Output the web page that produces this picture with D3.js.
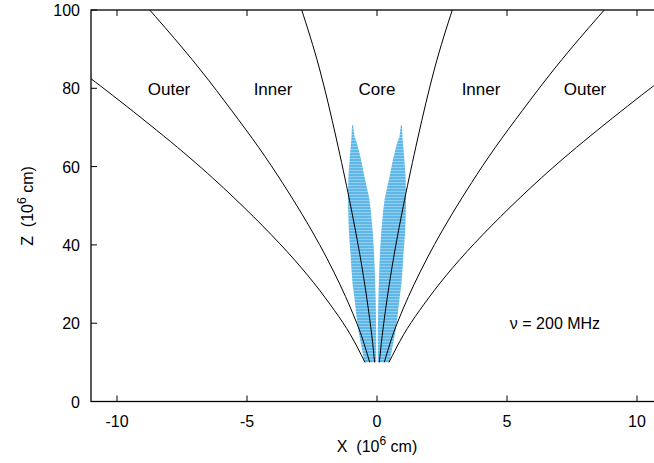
<!DOCTYPE html>
<html>
<head>
<meta charset="utf-8">
<script src="https://cdn.jsdelivr.net/npm/d3@7"></script>
<style>
  body { margin: 0; background: #fff; }
  svg { display: block; font-family: "Liberation Sans", Arial, sans-serif; }
  text { white-space: pre; }
</style>
</head>
<body>
<svg id="chart" width="654" height="463"></svg>
<script>
const xTicks = [-10, -5, 0, 5, 10];
const yTicks = [0, 20, 40, 60, 80, 100];

// field lines, right-hand side [x, z]; left side is the mirror image
const outerLine = [[0.46, 10], [1.02, 17.05], [1.63, 23.2], [2.43, 30.3], [3.46, 38.3],
  [4.75, 47.2], [6.32, 57.1], [8.2, 67.8], [10.42, 79.5], [11.67, 85.7]];
const innerLine = [[0.28, 10], [0.57, 16.25], [0.85, 21.2], [1.21, 26.8], [1.66, 33.1],
  [2.21, 40.1], [2.87, 47.7], [3.64, 55.9], [4.55, 64.9], [5.6, 74.4], [6.79, 84.7],
  [8.15, 95.5], [9.67, 107]];
const coreLine = [[0.09, 10], [0.2, 16.8], [0.39, 26.3], [0.67, 37.9], [1.06, 51.5],
  [1.57, 67.3], [2.22, 85.2], [2.91, 100.3]];

// emission region (one lobe): z, inner |x|, outer |x|
const lobeZ     = [10, 13, 17.5, 21.7, 26, 30, 34.5, 38.7, 43, 48.9, 52, 57.4, 62, 66, 67.5, 70.6];
const lobeInner = [0.03, 0.03, 0.03, 0.04, 0.05, 0.07, 0.09, 0.12, 0.16, 0.24, 0.30, 0.48, 0.62, 0.77, 0.86, 0.92];
const lobeOuter = [0.48, 0.57, 0.70, 0.79, 0.86, 0.94, 0.99, 1.03, 1.08, 1.11, 1.12, 1.10, 1.05, 1.00, 0.98, 0.96];

const regionNames = ['Outer', 'Inner', 'Core', 'Inner', 'Outer'];
const regionX = [-8, -4, 0, 4, 8];
const regionZ = 78.3;

const svg = d3.select('#chart');
const x = d3.scaleLinear().domain([-11, 11]).range([91, 663]);
const y = d3.scaleLinear().domain([0, 100]).range([401.5, 10]);

svg.append('defs').append('clipPath').attr('id', 'plot')
  .append('rect')
  .attr('x', x(-11)).attr('y', y(100))
  .attr('width', x(11) - x(-11)).attr('height', y(0) - y(100));

const dots = svg.select('defs').append('pattern')
  .attr('id', 'dots').attr('patternUnits', 'userSpaceOnUse')
  .attr('width', 3).attr('height', 3);
dots.append('rect').attr('width', 3).attr('height', 3).attr('fill', '#5fb7e8');
dots.append('rect').attr('y', 2).attr('width', 3).attr('height', 1).attr('fill', '#93cfef');

const plot = svg.append('g').attr('clip-path', 'url(#plot)');

// emission lobes
const lobe = lobeZ.map((z, i) => ({ z, inner: lobeInner[i], outer: lobeOuter[i] }));
for (const s of [-1, 1]) {
  plot.append('path')
    .datum(lobe)
    .attr('fill', 'url(#dots)')
    .attr('d', d3.area()
      .y(d => y(d.z))
      .x0(d => x(s * d.inner))
      .x1(d => x(s * d.outer)));
}

// field lines
const line = d3.line().x(d => x(d[0])).y(d => y(d[1])).curve(d3.curveNatural);
for (const pts of [outerLine, innerLine, coreLine]) {
  for (const s of [-1, 1]) {
    plot.append('path')
      .datum(pts.map(p => [s * p[0], p[1]]))
      .attr('fill', 'none')
      .attr('stroke', '#000')
      .attr('stroke-width', 1)
      .attr('d', line);
  }
}

// frame and ticks
svg.append('rect')
  .attr('x', x(-11)).attr('y', y(100))
  .attr('width', x(11) - x(-11)).attr('height', y(0) - y(100))
  .attr('fill', 'none').attr('stroke', '#000').attr('stroke-width', 1.3);

const tl = 6;
svg.append('g').selectAll('line').data(xTicks).join('line')
  .attr('x1', d => x(d)).attr('x2', d => x(d))
  .attr('y1', y(0)).attr('y2', y(0) - tl)
  .attr('stroke', '#000');
svg.append('g').selectAll('line').data(xTicks).join('line')
  .attr('x1', d => x(d)).attr('x2', d => x(d))
  .attr('y1', y(100)).attr('y2', y(100) + tl)
  .attr('stroke', '#000');
svg.append('g').selectAll('line').data(yTicks).join('line')
  .attr('x1', x(-11)).attr('x2', x(-11) + tl)
  .attr('y1', d => y(d)).attr('y2', d => y(d))
  .attr('stroke', '#000');

svg.append('g').selectAll('text').data(xTicks).join('text')
  .attr('x', d => x(d)).attr('y', 427)
  .attr('text-anchor', 'middle').attr('font-size', 16)
  .text(d => d);
svg.append('g').selectAll('text').data(yTicks).join('text')
  .attr('x', 80).attr('y', d => y(d) + 6)
  .attr('text-anchor', 'end').attr('font-size', 16)
  .text(d => d);

// axis titles
const xt = svg.append('text').attr('x', 377).attr('y', 452)
  .attr('text-anchor', 'middle').attr('font-size', 16);
xt.append('tspan').text('X  (10');
xt.append('tspan').attr('dy', -7).attr('font-size', 12).text('6');
xt.append('tspan').attr('dy', 7).text(' cm)');

const yt = svg.append('text').attr('transform', 'translate(33,206) rotate(-90)')
  .attr('text-anchor', 'middle').attr('font-size', 16);
yt.append('tspan').text('Z  (10');
yt.append('tspan').attr('dy', -7).attr('font-size', 12).text('6');
yt.append('tspan').attr('dy', 7).text(' cm)');

// region labels
svg.append('g').selectAll('text').data(regionNames).join('text')
  .attr('x', (d, i) => x(regionX[i])).attr('y', y(regionZ))
  .attr('text-anchor', 'middle').attr('font-size', 17)
  .text(d => d);

svg.append('text').attr('x', 555).attr('y', 329)
  .attr('text-anchor', 'middle').attr('font-size', 16)
  .text('ν = 200 MHz');
</script>
</body>
</html>
